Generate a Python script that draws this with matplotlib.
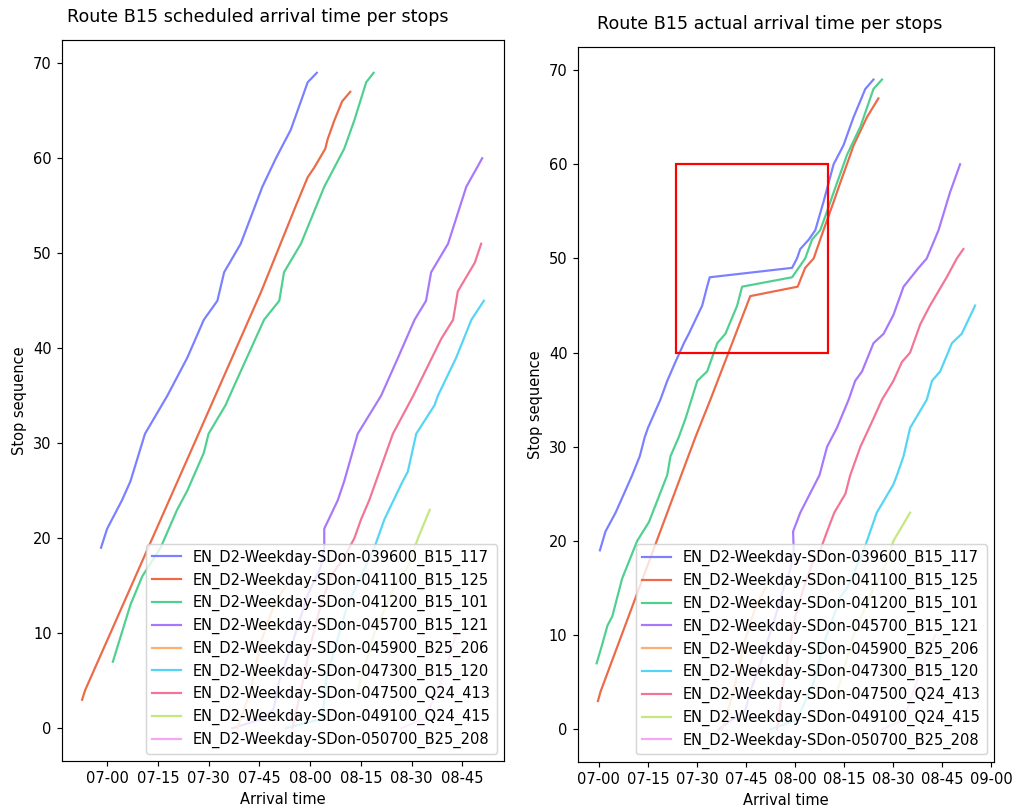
import matplotlib
matplotlib.use('Agg')
import matplotlib.pyplot as plt
import matplotlib.dates as mdates
from matplotlib.patches import Rectangle
import pandas as pd

# trips (legend labels)
trips = ['EN_D2-Weekday-SDon-039600_B15_117',
         'EN_D2-Weekday-SDon-041100_B15_125',
         'EN_D2-Weekday-SDon-041200_B15_101',
         'EN_D2-Weekday-SDon-045700_B15_121',
         'EN_D2-Weekday-SDon-045900_B25_206',
         'EN_D2-Weekday-SDon-047300_B15_120',
         'EN_D2-Weekday-SDon-047500_Q24_413',
         'EN_D2-Weekday-SDon-049100_Q24_415',
         'EN_D2-Weekday-SDon-050700_B25_208']
colors = ['#7a80ff', '#ec6a48', '#4fd08f', '#a878fc', '#fdae70',
          '#55d5f5', '#f27595', '#c4e77e', '#f6a6f6']

# arrival time = minutes after 07:00, stop = stop sequence
# --- scheduled ---
sched_stops = [
    [19, 21, 24, 26, 31, 35, 39, 43, 45, 48, 51, 57, 60, 63, 68, 69],
    [3, 4, 30, 46, 55, 58, 59, 61, 62, 64, 66, 67],
    [7, 13, 16, 19, 23, 25, 29, 31, 34, 36, 43, 45, 48, 51, 57, 61, 63, 64, 68, 69],
    [0, 1, 2, 5, 9, 14, 17, 19, 21, 24, 26, 31, 35, 39, 43, 45, 48, 51, 57, 60],
    [0, 4, 9, 13, 15],
    [0, 1, 5, 7, 13, 19, 21, 22, 26, 27, 31, 34, 35, 39, 43, 45],
    [0, 4, 9, 13, 16, 18, 20, 22, 24, 29, 31, 35, 41, 43, 46, 49, 51],
    [4, 10, 15, 17, 20, 23],
    [0, 1, 4, 7, 10],
]
sched_min = [
    [-1.8, 0, 4.4, 6.9, 11.2, 17.8, 23.7, 28.6, 32.6, 34.6, 39.5, 45.9, 49.9, 54.3, 59.3, 62],
    [-7.4, -6.5, 25.8, 45.6, 55.8, 59.3, 61.2, 64.5, 65.2, 67.2, 69.5, 71.9],
    [1.7, 6.9, 10.4, 15.8, 20.7, 23.7, 28.6, 30, 35, 37.5, 46.4, 50.9, 52.3, 57.3, 64.2, 70.1, 72.1, 73.1, 76.6, 78.8],
    [37, 46, 49.2, 50.9, 54.8, 59.3, 63.2, 64.2, 64.2, 68.2, 70.1, 74.1, 81, 86, 90.9, 94.3, 95.8, 100.8, 106.2, 110.9],
    [38.5, 42.5, 45.4, 49.4, 52.8],
    [52.8, 63.7, 64.7, 66.2, 71.1, 79, 81, 82, 87.4, 88.9, 91.4, 96.8, 97.8, 103.2, 107.7, 111.4],
    [54.8, 57.3, 60.3, 63.2, 66.2, 70.1, 73.1, 75.1, 77.5, 82.5, 84.5, 90.5, 98.8, 102.3, 103.7, 108.7, 110.6],
    [74.1, 79, 85, 88.9, 91.9, 95.4],
    [86.9, 93.8, 97.8, 100.8, 103.2],
]

# --- actual ---
actual_stops = [
    [19, 21, 23, 27, 29, 31, 32, 35, 37, 39, 41, 42, 45, 47, 48, 49, 50, 51, 52, 53, 56, 60, 62, 65, 68, 69],
    [3, 4, 31, 35, 46, 47, 49, 50, 53, 56, 58, 61, 62, 65, 67],
    [7, 9, 11, 12, 16, 20, 22, 27, 29, 31, 33, 37, 38, 41, 42, 45, 47, 48, 49, 50, 52, 53, 55, 57, 61, 64, 68, 69],
    [0, 2, 4, 7, 12, 15, 17, 19, 21, 23, 27, 30, 32, 35, 37, 38, 41, 42, 44, 47, 49, 50, 53, 57, 60],
    [0, 4, 9, 13, 15],
    [0, 1, 5, 9, 12, 14, 15, 19, 21, 22, 23, 26, 27, 29, 32, 35, 37, 38, 41, 42, 45],
    [0, 4, 8, 12, 15, 18, 19, 21, 23, 25, 27, 30, 33, 35, 37, 39, 40, 43, 45, 48, 50, 51],
    [4, 5, 10, 15, 17, 20, 23],
    [0, 1, 4, 7, 10],
]
actual_min = [
    [0.3, 2, 5.1, 10.2, 12.5, 14, 15, 18.8, 20.9, 23.4, 26, 27.5, 31.6, 33.1, 33.9, 59.1, 60.6, 61.6, 64.2, 66.2, 68.7, 71.8, 74.8, 77.9, 81.5, 84],
    [-0.3, 0.5, 29.5, 34.1, 46.3, 60.8, 63.1, 65.7, 68.7, 71.8, 73.8, 76.9, 77.9, 82, 85.5],
    [-0.7, 1, 2.6, 4.1, 7.1, 11.7, 15.3, 20.9, 21.9, 24.4, 26.5, 30.1, 33.1, 36.2, 38.7, 42.3, 43.8, 59.1, 61.1, 63.1, 65.2, 67.7, 69.8, 71.8, 75.9, 80, 84, 86.6],
    [36.7, 44.8, 46.3, 49.4, 54, 56.5, 58.6, 59.6, 59.4, 61.6, 67.5, 69.8, 72.8, 76.4, 78.4, 80.5, 84, 87.1, 90.1, 93.2, 97.8, 100.3, 103.9, 107.4, 110.5],
    [37.7, 41.2, 44.3, 47.9, 50.9],
    [52.5, 60.6, 65.7, 68.7, 71.8, 73.8, 75.9, 81, 83, 84, 85, 90.1, 91.2, 93.2, 95.2, 100.3, 101.9, 104.4, 108, 111, 115.1],
    [54.5, 56, 58, 60.1, 62.6, 65.7, 67.7, 69.8, 72, 75.4, 76.9, 80, 84, 86.6, 90.1, 92.7, 95.2, 98.3, 101.3, 106.4, 109.5, 111.5],
    [72.8, 73.8, 77.9, 84, 87.1, 90.1, 95.2],
    [86.6, 93.2, 96.2, 99.3, 102.9],
]

# highlighted area on the actual plot (minutes after 07:00, stops)
box_min = (23.5, 70)
box_stops = (40, 60)

base = pd.Timestamp('2021-01-04 07:00')


def to_time(minutes):
    return base + pd.to_timedelta(minutes, unit='min')


DPI = 105
fig = plt.figure(figsize=(1013 / DPI, 807 / DPI), dpi=DPI)
ax1 = fig.add_axes([0.0612, 0.0570, 0.4363, 0.8934])
ax2 = fig.add_axes([0.5703, 0.0561, 0.4110, 0.8856])


def draw(ax, stops, mins, title, title_x):
    for i in range(len(trips)):
        ax.plot(to_time(pd.Series(mins[i])), stops[i], color=colors[i], label=trips[i])
    ax.xaxis.set_major_locator(mdates.MinuteLocator(byminute=[0, 15, 30, 45]))
    ax.xaxis.set_major_formatter(mdates.DateFormatter('%H-%M'))
    ax.set_xlabel('Arrival time')
    ax.set_ylabel('Stop sequence')
    ax.set_title(title, pad=12.5, x=title_x)
    ax.legend(loc='lower right', labelspacing=0.45)


draw(ax1, sched_stops, sched_min, 'Route B15 scheduled arrival time per stops', 0.442)
draw(ax2, actual_stops, actual_min, 'Route B15 actual arrival time per stops', 0.462)

x0 = mdates.date2num(to_time(box_min[0]))
x1 = mdates.date2num(to_time(box_min[1]))
ax2.add_patch(Rectangle((x0, box_stops[0]), x1 - x0, box_stops[1] - box_stops[0],
                        fill=False, edgecolor='red', lw=1.5, zorder=5))

fig.savefig('out.png', dpi=DPI)
